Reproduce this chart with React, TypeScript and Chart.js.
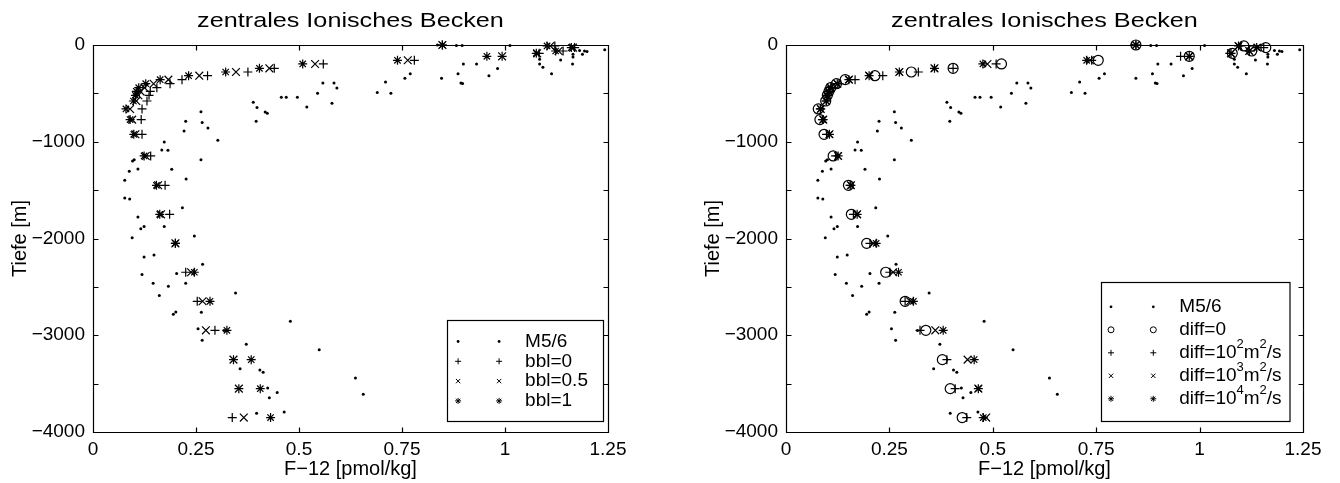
import React, { useEffect, useRef } from 'react';
import { Chart, registerables } from 'chart.js';

Chart.register(...registerables);

const FONT = "'Liberation Sans', Arial, Helvetica, sans-serif";

// ---------------- text ----------------
const titleText = 'zentrales Ionisches Becken';
const xAxisTitle = 'F\u221212 [pmol/kg]';
const yAxisTitle = 'Tiefe [m]';
const xTickValues = [0, 0.25, 0.5, 0.75, 1, 1.25];
const yTickValues = [0, -500, -1000, -1500, -2000, -2500, -3000, -3500, -4000];

// ---------------- observations M5/6 ----------------
const obsF = [
  0.836, 0.882, 0.896, 1.012, 0.585, 0.592, 0.58, 0.69, 0.71, 0.723,
  0.757, 0.77, 0.846, 0.899, 0.886, 0.893, 0.897, 0.931, 0.961, 0.982,
  1.084, 1.084, 1.092, 1.113, 1.135, 1.165, 1.165, 1.164, 1.181, 1.188,
  1.193, 1.199, 1.242, 0.558, 0.545, 0.519, 0.496, 0.457, 0.469, 0.389,
  0.398, 0.418, 0.423, 0.396, 0.262, 0.225, 0.265, 0.279, 0.221, 0.303,
  0.173, 0.167, 0.182, 0.1, 0.096, 0.262, 0.088, 0.109, 0.191, 0.077,
  0.226, 0.077, 0.089, 0.217, 0.109, 0.116, 0.124, 0.173, 0.095, 0.246,
  0.124, 0.148, 0.266, 0.119, 0.203, 0.146, 0.183, 0.225, 0.161, 0.346,
  0.195, 0.201, 0.263, 0.255, 0.265, 0.479, 0.372, 0.549, 0.357, 0.405,
  0.413, 0.637, 0.656, 0.424, 0.447, 0.428, 0.397, 0.464, 0.318,
];
const obsDepth = [
  0, -6, -6, -6, -393, -444, -603, -492, -382, -499,
  -344, -296, -344, -196, -296, -393, -399, -196, -317, -244,
  -148, -196, -230, -296, -155, -96, -124, -196, -58, -96,
  -62, -68, -48, -393, -499, -641, -541, -541, -541, -592,
  -647, -692, -706, -789, -689, -789, -802, -858, -889, -985,
  -1002, -1085, -1088, -1185, -1199, -1185, -1305, -1281, -1285, -1398,
  -1385, -1581, -1592, -1681, -1778, -1898, -1877, -1877, -1991, -1974,
  -2191, -2170, -2267, -2373, -2363, -2463, -2494, -2463, -2590, -2563,
  -2783, -2759, -2763, -2932, -3052, -2856, -3094, -3149, -3345, -3359,
  -3383, -3442, -3610, -3545, -3593, -3645, -3807, -3793, -2950,
];

// ---------------- model depths ----------------
const modelDepth = [
  0, -10, -27, -62, -86, -117, -158, -196, -241, -279,
  -317, -358, -400, -441, -479, -520, -579, -661, -771, -923,
  -1147, -1450, -1750, -2050, -2349, -2649, -2949, -3252, -3552, -3851,
];

// left panel: bottom boundary layer runs
const bbl0F = [
  0.848, 1.121, 1.169, 1.141, 1.083, 0.993, 0.78, 0.559, 0.44, 0.376,
  0.278, 0.216, 0.187, 0.155, 0.139, 0.136, 0.131, 0.119, 0.117, 0.119,
  0.14, 0.175, 0.186, 0.2, 0.225, 0.253, 0.296, 0.341, 0.354, 0.338,
];
const bbl05F = [
  0.848, 1.11, 1.165, 1.13, 1.078, 0.993, 0.764, 0.539, 0.428, 0.347,
  0.258, 0.183, 0.147, 0.125, 0.115, 0.11, 0.105, 0.09, 0.095, 0.103,
  0.128, 0.158, 0.165, 0.2, 0.238, 0.266, 0.274, 0.341, 0.354, 0.366,
];
const bbl1F = [
  0.848, 1.102, 1.161, 1.123, 1.076, 0.956, 0.739, 0.509, 0.404, 0.322,
  0.232, 0.163, 0.128, 0.111, 0.105, 0.103, 0.098, 0.08, 0.09, 0.099,
  0.124, 0.154, 0.162, 0.2, 0.246, 0.284, 0.325, 0.384, 0.406, 0.431,
];

// right panel: diffusion runs
const diff0F = [
  0.846, 1.107, 1.16, 1.126, 1.079, 0.975, 0.755, 0.521, 0.404, 0.303,
  0.215, 0.143, 0.122, 0.108, 0.104, 0.1, 0.096, 0.078, 0.082, 0.092,
  0.114, 0.151, 0.158, 0.195, 0.241, 0.288, 0.338, 0.378, 0.397, 0.426,
];
const diff2F = [
  0.846, 1.1, 1.155, 1.12, 1.073, 0.954, 0.739, 0.508, 0.404, 0.32,
  0.234, 0.167, 0.128, 0.112, 0.106, 0.102, 0.098, 0.083, 0.088, 0.098,
  0.12, 0.155, 0.163, 0.203, 0.251, 0.288, 0.324, 0.389, 0.409, 0.437,
];
const diff3F = [
  0.846, 1.094, 1.14, 1.12, 1.076, 0.975, 0.735, 0.487, 0.359, 0.274,
  0.201, 0.152, 0.124, 0.108, 0.103, 0.1, 0.097, 0.084, 0.09, 0.105,
  0.126, 0.157, 0.172, 0.211, 0.259, 0.3, 0.361, 0.439, 0.465, 0.484,
];
const diff4F = [
  0.846, 1.094, 1.138, 1.12, 1.076, 0.975, 0.727, 0.476, 0.359, 0.274,
  0.201, 0.152, 0.124, 0.108, 0.103, 0.1, 0.097, 0.084, 0.09, 0.105,
  0.126, 0.157, 0.172, 0.218, 0.272, 0.308, 0.38, 0.455, 0.465, 0.477,
];

// legend labels (segments: [text, superscript?])
type Seg = [string, boolean];
const leftLegend: { style: string; segs: Seg[] }[] = [
  { style: 'dot', segs: [['M5/6', false]] },
  { style: 'cross', segs: [['bbl=0', false]] },
  { style: 'crossRot', segs: [['bbl=0.5', false]] },
  { style: 'star', segs: [['bbl=1', false]] },
];
const rightLegend: { style: string; segs: Seg[] }[] = [
  { style: 'dot', segs: [['M5/6', false]] },
  { style: 'circle', segs: [['diff=0', false]] },
  { style: 'cross', segs: [['diff=10', false], ['2', true], ['m', false], ['2', true], ['/s', false]] },
  { style: 'crossRot', segs: [['diff=10', false], ['3', true], ['m', false], ['2', true], ['/s', false]] },
  { style: 'star', segs: [['diff=10', false], ['4', true], ['m', false], ['2', true], ['/s', false]] },
];

function pts(xs: number[], ys: number[]) {
  return xs.map((x, i) => ({ x, y: ys[i] }));
}

function drawMarker(ctx: CanvasRenderingContext2D, style: string, x: number, y: number, r: number) {
  ctx.beginPath();
  if (style === 'dot') {
    ctx.arc(x, y, 1.4, 0, Math.PI * 2);
    ctx.fill();
    return;
  }
  if (style === 'circle') {
    ctx.arc(x, y, r, 0, Math.PI * 2);
    ctx.stroke();
    return;
  }
  const d = r * 0.72;
  if (style === 'cross' || style === 'star') {
    ctx.moveTo(x - r, y); ctx.lineTo(x + r, y);
    ctx.moveTo(x, y - r); ctx.lineTo(x, y + r);
  }
  if (style === 'crossRot' || style === 'star') {
    ctx.moveTo(x - d, y - d); ctx.lineTo(x + d, y + d);
    ctx.moveTo(x - d, y + d); ctx.lineTo(x + d, y - d);
  }
  ctx.stroke();
}

interface LegendCfg {
  items: { style: string; segs: Seg[] }[];
  rightOffset: number;
  bottomOffset: number;
  width: number;
  rowTop: number;
  rowStep: number;
  height: number;
  m1: number;
  m2: number;
  tx: number;
}

const framePlugin = {
  id: 'matlabFrame',
  afterDatasetsDraw(chart: any, _args: any, opts: any) {
    const { ctx, chartArea: a, scales } = chart;
    const xs = scales.x;
    const ys = scales.y;
    ctx.save();
    ctx.strokeStyle = '#000';
    ctx.fillStyle = '#000';
    ctx.lineWidth = 1.2;
    // box
    const L = Math.round(a.left) + 0.5;
    const R = Math.round(a.right) + 0.5;
    const T = Math.round(a.top) + 0.5;
    const B = Math.round(a.bottom) + 0.5;
    ctx.beginPath();
    ctx.rect(L, T, R - L, B - T);
    // inward ticks
    const tl = 5;
    for (const v of xTickValues) {
      const px = Math.round(xs.getPixelForValue(v)) + 0.5;
      ctx.moveTo(px, B); ctx.lineTo(px, B - tl);
      ctx.moveTo(px, T); ctx.lineTo(px, T + tl);
    }
    for (const v of yTickValues) {
      const py = Math.round(ys.getPixelForValue(v)) + 0.5;
      ctx.moveTo(L, py); ctx.lineTo(L + tl, py);
      ctx.moveTo(R, py); ctx.lineTo(R - tl, py);
    }
    ctx.stroke();

    // title
    ctx.save();
    ctx.font = `21px ${FONT}`;
    ctx.textAlign = 'center';
    ctx.textBaseline = 'alphabetic';
    ctx.translate((a.left + a.right) / 2, 27);
    ctx.scale(1.2, 1);
    ctx.fillText(titleText, 0, 0);
    ctx.restore();

    // legend
    const lg: LegendCfg = opts.legend;
    const bx = Math.round(a.right - lg.rightOffset - lg.width) + 0.5;
    const by = Math.round(a.bottom - lg.bottomOffset - lg.height) + 0.5;
    ctx.fillStyle = '#fff';
    ctx.fillRect(bx, by, lg.width, lg.height);
    ctx.strokeStyle = '#000';
    ctx.lineWidth = 1.2;
    ctx.strokeRect(bx, by, lg.width, lg.height);
    ctx.lineWidth = 1;
    ctx.fillStyle = '#000';
    ctx.textAlign = 'left';
    ctx.textBaseline = 'middle';
    lg.items.forEach((it, i) => {
      const y = by + lg.rowTop + i * lg.rowStep;
      drawMarker(ctx, it.style, bx + lg.m1, y, 3);
      drawMarker(ctx, it.style, bx + lg.m2, y, 3);
      let x = bx + lg.tx;
      for (const [t, sup] of it.segs) {
        ctx.font = sup ? `13px ${FONT}` : `19px ${FONT}`;
        ctx.fillText(t, x, sup ? y - 8 : y);
        x += ctx.measureText(t).width;
      }
    });
    ctx.restore();
  },
};

function makeConfig(datasets: any[], yWidth: number, padRight: number, yTitlePad: number, legend: LegendCfg): any {
  return {
    type: 'scatter',
    data: { datasets },
    plugins: [framePlugin],
    options: {
      responsive: false,
      animation: false,
      devicePixelRatio: 1,
      layout: { padding: { top: 45, right: padRight, left: 0, bottom: 0 } },
      plugins: {
        legend: { display: false },
        title: { display: false },
        tooltip: { enabled: false },
        matlabFrame: { legend },
      },
      events: [],
      scales: {
        x: {
          type: 'linear',
          min: 0,
          max: 1.25,
          afterFit: (s: any) => { s.height = 51; },
          grid: { display: false, drawTicks: false },
          border: { display: false },
          ticks: {
            stepSize: 0.25,
            autoSkip: false,
            maxRotation: 0,
            padding: 6,
            color: '#000',
            font: { size: 19, family: FONT },
            callback: (v: any) => String(Math.round(Number(v) * 100) / 100),
          },
          title: {
            display: true,
            text: xAxisTitle,
            color: '#000',
            font: { size: 20, family: FONT },
            padding: { top: 0, bottom: 2 },
          },
        },
        y: {
          type: 'linear',
          min: -4000,
          max: 0,
          afterFit: (s: any) => { s.width = yWidth; },
          grid: { display: false, drawTicks: false },
          border: { display: false },
          ticks: {
            stepSize: 500,
            autoSkip: false,
            padding: 8,
            color: '#000',
            font: { size: 19, family: FONT },
            callback: (v: any) => {
              const n = Number(v);
              if (n % 1000 !== 0) return '';
              return n === 0 ? '0' : '\u2212' + Math.abs(n);
            },
          },
          title: {
            display: true,
            text: yAxisTitle,
            color: '#000',
            font: { size: 20, family: FONT },
            padding: { top: yTitlePad, bottom: 0 },
          },
        },
      },
    },
  };
}

function marker(label: string, data: any[], style: string, radius: number) {
  const isDot = style === 'dot';
  return {
    label,
    data,
    showLine: false,
    clip: false,
    pointStyle: isDot ? 'circle' : style,
    pointRadius: isDot ? 1.5 : radius,
    pointBorderWidth: isDot ? 0 : 1.2,
    pointBorderColor: '#000',
    pointBackgroundColor: isDot ? '#000' : 'rgba(0,0,0,0)',
    borderColor: '#000',
    backgroundColor: isDot ? '#000' : 'rgba(0,0,0,0)',
  };
}

function Panel({ left, which }: { left: number; which: 'left' | 'right' }) {
  const ref = useRef<HTMLCanvasElement>(null);
  useEffect(() => {
    const obs = pts(obsF, obsDepth);
    let cfg: any;
    if (which === 'left') {
      cfg = makeConfig(
        [
          marker('M5/6', obs, 'dot', 1.5),
          marker('bbl=0', pts(bbl0F, modelDepth), 'cross', 4.5),
          marker('bbl=0.5', pts(bbl05F, modelDepth), 'crossRot', 5.5),
          marker('bbl=1', pts(bbl1F, modelDepth), 'star', 4.5),
        ],
        93,
        62,
        8,
        {
          items: leftLegend,
          rightOffset: 5.5,
          bottomOffset: 11,
          width: 156,
          height: 101,
          rowTop: 21,
          rowStep: 19.8,
          m1: 10.6,
          m2: 51.6,
          tx: 77.6,
        }
      );
    } else {
      cfg = makeConfig(
        [
          marker('M5/6', obs, 'dot', 1.5),
          marker('diff=0', pts(diff0F, modelDepth), 'circle', 5),
          marker('diff=1e2', pts(diff2F, modelDepth), 'cross', 4.5),
          marker('diff=1e3', pts(diff3F, modelDepth), 'crossRot', 5.5),
          marker('diff=1e4', pts(diff4F, modelDepth), 'star', 4.5),
        ],
        116,
        37,
        31,
        {
          items: rightLegend,
          rightOffset: 14,
          bottomOffset: 11,
          width: 188.5,
          height: 139,
          rowTop: 24.3,
          rowStep: 23,
          m1: 9.5,
          m2: 51.8,
          tx: 77.8,
        }
      );
    }
    const chart = new Chart(ref.current as HTMLCanvasElement, cfg);
    return () => chart.destroy();
  }, [which]);
  return (
    <div style={{ position: 'absolute', left, top: 0, width: 670, height: 483 }}>
      <canvas ref={ref} width={670} height={483} style={{ display: 'block', width: 670, height: 483 }} />
    </div>
  );
}

export default function App() {
  return (
    <div
      style={{
        position: 'absolute',
        left: 0,
        top: 0,
        width: 1340,
        height: 483,
        background: '#fff',
        overflow: 'hidden',
      }}
    >
      <Panel left={0} which="left" />
      <Panel left={670} which="right" />
    </div>
  );
}
